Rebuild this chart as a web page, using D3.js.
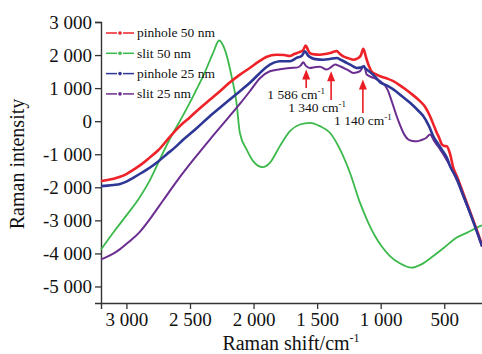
<!DOCTYPE html>
<html>
<head>
<meta charset="utf-8">
<script src="https://cdn.jsdelivr.net/npm/d3@7"></script>
<style>
  body { margin: 0; background: #fff; }
  svg text { font-family: "Liberation Serif", serif; }
</style>
</head>
<body>
<div id="chart"></div>
<script>
// Raman shift (cm-1), intensity pairs
const pinhole50 = [
  [3200,-1810],[3150,-1780],[3100,-1740],[3050,-1680],[3000,-1600],[2950,-1480],[2880,-1300],
  [2820,-1110],[2750,-880],[2660,-480],[2580,-150],[2500,120],[2420,400],[2340,660],[2260,920],
  [2190,1160],[2110,1400],[2030,1610],[1960,1800],[1900,1940],[1820,2010],[1760,2000],[1714,1970],
  [1680,2030],[1640,2090],[1610,2150],[1590,2290],[1575,2180],[1557,2060],[1520,2020],[1478,2010],
  [1440,2030],[1400,2060],[1370,2100],[1346,2120],[1320,2030],[1294,1960],[1250,1900],[1215,1860],
  [1176,1910],[1155,2000],[1137,2190],[1120,2000],[1110,1860],[1085,1600],[1071,1500],[1040,1420],
  [1005,1360],[950,1290],[901,1210],[840,1060],[769,860],[691,605],[650,430],[612,150],[580,-150],
  [559,-350],[540,-500],[520,-700],[500,-750],[480,-760],[454,-1000],[428,-1420],[400,-1670],
  [350,-2190],[300,-2710],[250,-3230],[203,-3740]
];
const slit50 = [
  [3200,-3880],[3100,-3350],[3000,-2850],[2900,-2330],[2817,-1800],[2740,-1180],
  [2659,-540],[2580,0],[2502,555],[2450,950],[2397,1360],[2318,2065],[2271,2440],[2226,2165],
  [2173,1360],[2134,555],[2108,-350],[2055,-855],[2003,-1210],[1929,-1390],[1872,-1260],
  [1793,-755],[1714,-300],[1635,-100],[1557,-50],[1478,-150],[1399,-350],[1320,-855],[1242,-1560],
  [1163,-2465],[1100,-3050],[1045,-3475],[990,-3800],[927,-4080],[850,-4300],[756,-4430],
  [680,-4330],[586,-4080],[500,-3820],[402,-3520],[320,-3370],[244,-3220],[203,-3150]
];
const pinhole25 = [
  [3200,-1965],[3150,-1950],[3100,-1930],[3050,-1900],[3000,-1830],[2950,-1720],[2880,-1560],
  [2817,-1410],[2750,-1220],[2685,-1005],[2620,-800],[2554,-560],[2450,-220],[2344,150],[2260,420],
  [2187,655],[2100,930],[2029,1160],[1960,1420],[1898,1640],[1840,1770],[1793,1815],[1714,1815],
  [1661,1915],[1620,1980],[1596,2110],[1570,1980],[1543,1910],[1500,1870],[1452,1860],[1400,1880],
  [1346,1910],[1310,1850],[1268,1765],[1230,1690],[1189,1610],[1160,1620],[1137,1650],[1110,1560],
  [1084,1490],[1040,1330],[1005,1180],[953,1080],[901,960],[840,780],[769,555],[700,300],[664,150],
  [620,-150],[586,-455],[550,-680],[520,-855],[480,-1100],[454,-1360],[400,-1750],[350,-2250],
  [300,-2750],[250,-3270],[203,-3780]
];
const slit25 = [
  [3200,-4180],[3150,-4100],[3100,-4000],[3050,-3870],[2980,-3650],[2900,-3370],[2800,-2880],
  [2712,-2400],[2593,-1760],[2470,-1150],[2344,-555],[2200,100],[2100,560],[2029,905],[1950,1300],
  [1872,1510],[1793,1570],[1714,1610],[1661,1620],[1630,1680],[1609,1780],[1590,1680],[1557,1610],
  [1510,1640],[1478,1645],[1425,1560],[1385,1650],[1360,1715],[1320,1660],[1260,1550],[1215,1460],
  [1163,1510],[1131,1680],[1110,1410],[1050,1300],[1005,1210],[966,1080],[940,900],[927,760],
  [900,450],[874,150],[850,-100],[822,-350],[783,-555],[750,-600],[717,-610],[680,-570],[640,-500],
  [612,-400],[580,-600],[550,-760],[533,-855],[500,-1050],[454,-1360],[400,-1800],[350,-2280],
  [300,-2760],[250,-3260],[203,-3800]
];

const seriesNames = ["pinhole 50 nm", "slit 50 nm", "pinhole 25 nm", "slit 25 nm"];
const xTicks = [3000, 2500, 2000, 1500, 1000, 500];
const yTicks = [3000, 2000, 1000, 0, -1000, -2000, -3000, -4000, -5000];

// marked bands: label, arrow position (cm-1), arrow tip and tail (intensity)
const peakLabels = ["1 586", "1 340", "1 140"];
const peakShift = [1586, 1390, 1140];
const arrowTip = [1560, 1510, 1260];
const arrowTail = [1000, 640, 250];

const colors = ["#ee2229", "#3cb94b", "#2e3796", "#6a2d90"];
const widths = [2.6, 1.8, 2.6, 2];

const W = 482, H = 354;
const margin = {top: 22, right: 0, bottom: 51, left: 101};
const serif = "Liberation Serif";

const svg = d3.select("#chart").append("svg")
  .attr("width", W).attr("height", H);

const x = d3.scaleLinear().domain([3200, 200]).range([margin.left, 482.4]);
const y = d3.scaleLinear().domain([-5500, 3000]).range([H - margin.bottom, margin.top]);

const loc = d3.formatLocale({decimal: ".", thousands: " ", grouping: [3], currency: ["", ""], minus: "-"});
const fmt = loc.format(",");

// axes
const xAxis = svg.append("g")
  .attr("transform", "translate(0," + (H - margin.bottom) + ")")
  .call(d3.axisBottom(x).tickValues(xTicks).tickFormat(fmt).tickSizeOuter(0).tickSize(6).tickPadding(4));
const yAxis = svg.append("g")
  .attr("transform", "translate(" + margin.left + ",0)")
  .call(d3.axisLeft(y).tickValues(yTicks).tickFormat(fmt).tickSizeOuter(0).tickSize(6).tickPadding(3));

[xAxis, yAxis].forEach(g => {
  g.attr("font-family", serif).attr("font-size", 19);
  g.select(".domain").attr("stroke", "#333").attr("stroke-width", 1.4);
  g.selectAll(".tick line").attr("stroke", "#333").attr("stroke-width", 1.3);
  g.selectAll(".tick text").attr("fill", "#111").attr("font-family", serif).attr("font-size", 19);
});

// curves
const line = d3.line().curve(d3.curveMonotoneX).x(d => x(d[0])).y(d => y(d[1]));
const all = [pinhole50, slit50, pinhole25, slit25];
const drawOrder = [1, 3, 0, 2];
drawOrder.forEach(i => {
  svg.append("path")
    .datum(all[i])
    .attr("fill", "none")
    .attr("stroke", colors[i])
    .attr("stroke-width", widths[i])
    .attr("stroke-linejoin", "round")
    .attr("d", line);
});

// legend
const legend = svg.append("g").attr("transform", "translate(106,33)");
seriesNames.forEach((name, i) => {
  const g = legend.append("g").attr("transform", "translate(0," + i * 20.3 + ")");
  g.append("line").attr("x1", 0).attr("x2", 11).attr("stroke", colors[i]).attr("stroke-width", 1.5);
  g.append("line").attr("x1", 17).attr("x2", 28).attr("stroke", colors[i]).attr("stroke-width", 1.5);
  g.append("circle").attr("cx", 14).attr("r", 1.8).attr("fill", colors[i]);
  g.append("text").attr("x", 31).attr("dy", "0.33em").attr("font-family", serif)
    .attr("font-size", 13.5).attr("fill", "#111").text(name);
});

// arrows and band labels
const labelDx = [-10, -14, 0];
const labelY = [98.5, 112, 124.5];
peakShift.forEach((p, i) => {
  const px = x(p), tip = y(arrowTip[i]), tail = y(arrowTail[i]);
  svg.append("line").attr("x1", px).attr("x2", px).attr("y1", tail).attr("y2", tip + 8)
    .attr("stroke", "#ec1c24").attr("stroke-width", 1.6);
  svg.append("path")
    .attr("d", "M" + px + "," + tip + "L" + (px - 4) + "," + (tip + 10) + "L" + (px + 4) + "," + (tip + 10) + "Z")
    .attr("fill", "#ec1c24");
  const t = svg.append("text").attr("x", px + labelDx[i]).attr("y", labelY[i]).attr("font-family", serif)
    .attr("text-anchor", "middle").attr("font-size", 13.5).attr("fill", "#111");
  t.append("tspan").text(peakLabels[i] + " cm");
  t.append("tspan").attr("dy", -5).attr("font-size", 9).text("-1");
});

// titles
svg.append("text")
  .attr("transform", "translate(24,164) rotate(-90)").attr("font-family", serif)
  .attr("text-anchor", "middle").attr("font-size", 20).attr("fill", "#111")
  .text("Raman intensity");
const xt = svg.append("text").attr("x", 291).attr("y", 350).attr("font-family", serif)
  .attr("text-anchor", "middle").attr("font-size", 20).attr("fill", "#111");
xt.append("tspan").text("Raman shift/cm");
xt.append("tspan").attr("dy", -8).attr("font-size", 12).text("-1");
</script>
</body>
</html>
